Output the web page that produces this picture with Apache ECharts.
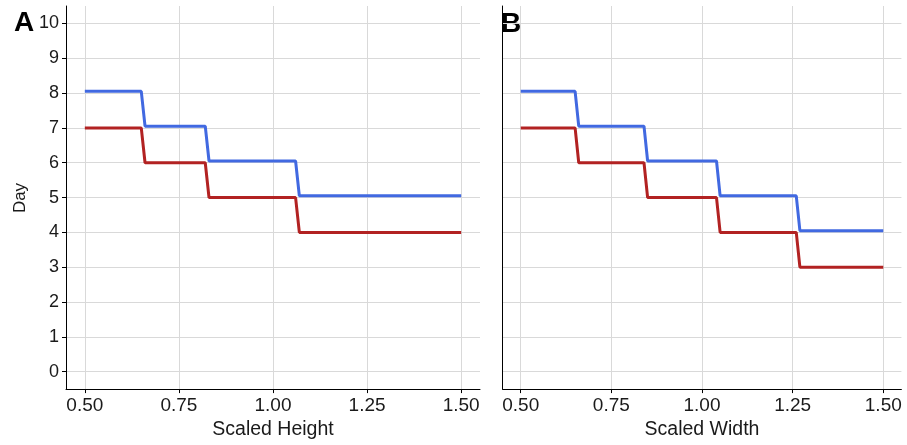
<!DOCTYPE html>
<html>
<head>
<meta charset="utf-8">
<script src="https://cdn.jsdelivr.net/npm/echarts@6/dist/echarts.min.js"></script>
<style>html,body{margin:0;padding:0;background:#fff}#c{width:907px;height:445px}</style>
</head>
<body>
<div id="c"></div>
<script>
// Panel A: Scaled Height
const heightX   = [0.50, 0.65, 0.66, 0.82, 0.83, 1.06, 1.07, 1.50];
const heightBlue = [8.05, 8.05, 7.05, 7.05, 6.05, 6.05, 5.05, 5.05];
const heightRed  = [7, 7, 6, 6, 5, 5, 4, 4];
// Panel B: Scaled Width
const widthX    = [0.50, 0.65, 0.66, 0.84, 0.85, 1.04, 1.05, 1.26, 1.27, 1.50];
const widthBlue = [8.05, 8.05, 7.05, 7.05, 6.05, 6.05, 5.05, 5.05, 4.05, 4.05];
const widthRed  = [7, 7, 6, 6, 5, 5, 4, 4, 3, 3];
const xTicks = [0.50, 0.75, 1.00, 1.25, 1.50];
const yTicks = [0, 1, 2, 3, 4, 5, 6, 7, 8, 9, 10];

const pair = (xs, ys) => xs.map((x, i) => [x, ys[i]]);
const txt = '#1a1a1a';
const font = 'Liberation Sans, Arial, sans-serif';

function xAxis(idx, name) {
  return {
    type: 'value', gridIndex: idx, min: 0.45, max: 1.55,
    name: name, nameLocation: 'middle', nameGap: 30,
    nameTextStyle: { color: txt, fontSize: 19.5, fontFamily: font },
    axisLine: { show: true, onZero: false, lineStyle: { color: '#000', width: 1 } },
    axisTick: { show: true, length: 4, customValues: xTicks, lineStyle: { color: '#000' } },
    axisLabel: { customValues: xTicks, color: txt, fontSize: 19, fontFamily: font, margin: 7,
      formatter: v => v.toFixed(2) },
    splitLine: { show: true, lineStyle: { color: '#d9d9d9', width: 1 } }
  };
}
function yAxis(idx, showLabels) {
  return {
    type: 'value', gridIndex: idx, min: -0.5, max: 10.5,
    axisLine: { show: true, onZero: false, lineStyle: { color: '#000', width: 1 } },
    axisTick: { show: showLabels, length: 4, customValues: yTicks, lineStyle: { color: '#000' } },
    axisLabel: { show: showLabels, customValues: yTicks, color: txt, fontSize: 18, fontFamily: font, margin: 7 },
    splitLine: { show: true, lineStyle: { color: '#d9d9d9', width: 1 } }
  };
}
function line(xi, xs, ys, color) {
  return { type: 'line', xAxisIndex: xi, yAxisIndex: xi, data: pair(xs, ys),
    symbol: 'none', lineStyle: { color: color, width: 3 }, itemStyle: { color: color } };
}

const chart = echarts.init(document.getElementById('c'));
chart.setOption({
  animation: false,
  backgroundColor: '#fff',
  grid: [
    { left: 66, top: 6, width: 414, height: 386 },
    { left: 502.6, top: 6, width: 398.8, height: 386 }
  ],
  xAxis: [xAxis(0, 'Scaled Height'), xAxis(1, 'Scaled Width')],
  yAxis: [yAxis(0, true), yAxis(1, false)],
  series: [
    line(0, heightX, heightBlue, '#4169E1'),
    line(0, heightX, heightRed, '#B22222'),
    line(1, widthX, widthBlue, '#4169E1'),
    line(1, widthX, widthRed, '#B22222')
  ],
  graphic: [
    { type: 'text', left: 14, top: 9, style: { text: 'A', fontSize: 28, fontWeight: 'bold', fill: '#000', fontFamily: font } },
    { type: 'text', left: 501, top: 10, style: { text: 'B', fontSize: 28, fontWeight: 'bold', fill: '#000', fontFamily: font } },
    { type: 'text', x: 20, y: 198, rotation: Math.PI / 2,
      style: { text: 'Day', fontSize: 17, fill: txt, fontFamily: font, align: 'center', verticalAlign: 'middle' } }
  ]
});
</script>
</body>
</html>
